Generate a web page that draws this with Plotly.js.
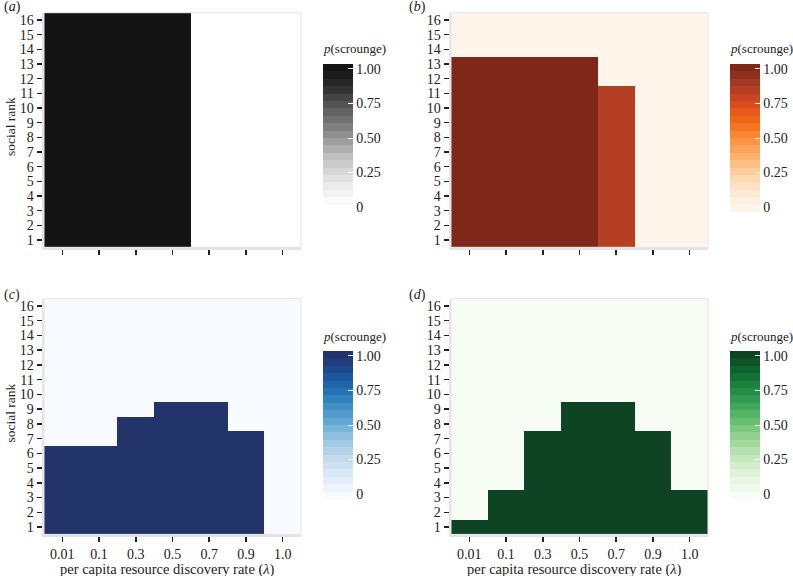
<!DOCTYPE html>
<html>
<head>
<meta charset="utf-8">
<script src="https://cdn.plot.ly/plotly-3.0.1.min.js"></script>
<style>html,body{margin:0;padding:0;background:#fff;}#chart{width:793px;height:576px;}</style>
</head>
<body>
<div id="chart"></div>
<script>
// ---- data ----
const discoveryRates = ['0.01', '0.1', '0.3', '0.5', '0.7', '0.9', '1.0'];
const socialRanks = [1, 2, 3, 4, 5, 6, 7, 8, 9, 10, 11, 12, 13, 14, 15, 16];

// highest social rank that scrounges in each lambda column, and the p(scrounge) of those cells
const panelA_maxRank = [16, 16, 16, 16, 0, 0, 0];
const panelA_level   = [1, 1, 1, 1, 0, 0, 0];
const panelB_maxRank = [13, 13, 13, 13, 11, 0, 0];
const panelB_level   = [1, 1, 1, 1, 0.86, 0, 0];
const panelC_maxRank = [6, 6, 8, 9, 9, 7, 0];
const panelC_level   = [1, 1, 1, 1, 1, 1, 0];
const panelD_maxRank = [1, 3, 7, 9, 9, 7, 3];
const panelD_level   = [1, 1, 1, 1, 1, 1, 1];

const cbTickVals = [0, 0.25, 0.5, 0.75, 1];
const cbTickText = ['0', '0.25', '0.50', '0.75', '1.00'];

// ---- palettes ----
const greys   = ['#ffffff','#f0f0f0','#d9d9d9','#bdbdbd','#969696','#737373','#525252','#2a2a2a','#141414'];
const oranges = ['#fff5eb','#fee6ce','#fdd0a2','#fdae6b','#fd8d3c','#f16913','#d84a1e','#aa3c25','#7f2819'];
const blues   = ['#f7fbff','#deebf7','#c6dbef','#9ecae1','#6baed6','#4292c6','#2171b5','#1a4f98','#22346a'];
const greens  = ['#f7fcf5','#e5f5e0','#c7e9c0','#a1d99b','#74c476','#41ab5d','#238b45','#0e6a30','#0e4424'];

function hex2rgb(h){return [parseInt(h.slice(1,3),16),parseInt(h.slice(3,5),16),parseInt(h.slice(5,7),16)];}
function interp(pal, t){
  t = Math.max(0, Math.min(1, t));
  const p = t*(pal.length-1), i = Math.min(Math.floor(p), pal.length-2), f = p - i;
  const a = hex2rgb(pal[i]), b = hex2rgb(pal[i+1]);
  const c = a.map((v,k)=>Math.round(v+(b[k]-v)*f));
  return 'rgb('+c.join(',')+')';
}
const ZMIN = -0.035, ZMAX = 1.035, NBANDS = 20;
function stepped(pal){
  const cs = [];
  for (let i=0;i<NBANDS;i++){
    const center = ZMIN + (i+0.5)*(ZMAX-ZMIN)/NBANDS;
    const c = interp(pal, center);
    cs.push([i/NBANDS, c]); cs.push([(i+1)/NBANDS, c]);
  }
  return cs;
}
function buildZ(maxRank, level){
  return socialRanks.map(r => discoveryRates.map((_,c) => r <= maxRank[c] ? level[c] : 0));
}

const W = 793, H = 576;
const FONT = '"Liberation Serif", "Times New Roman", serif';
const px = v => v / W, py = v => 1 - v / H;

const panels = [
  {maxRank: panelA_maxRank, level: panelA_level, pal: greys,   xd:[44,301],  yd:[12.7,247.3], cbx:323, cby:[64,212],  lab:'(<i>a</i>)', labx:2,   laby:7,   ylab:true,  xlab:false},
  {maxRank: panelB_maxRank, level: panelB_level, pal: oranges, xd:[451,708], yd:[12.7,247.3], cbx:730, cby:[64,212],  lab:'(<i>b</i>)', labx:407, laby:7,   ylab:false, xlab:false},
  {maxRank: panelC_maxRank, level: panelC_level, pal: blues,   xd:[44,301],  yd:[298.6,534.4],cbx:323, cby:[351,499], lab:'(<i>c</i>)', labx:2,   laby:295, ylab:true,  xlab:true},
  {maxRank: panelD_maxRank, level: panelD_level, pal: greens,  xd:[451,708], yd:[298.6,534.4],cbx:730, cby:[351,499], lab:'(<i>d</i>)', labx:407, laby:295, ylab:false, xlab:true}
];

const data = [], annotations = [], shapes = [];
const layout = {
  width: W, height: H, margin:{l:0,r:0,t:0,b:0},
  paper_bgcolor:'#ffffff', plot_bgcolor:'#ffffff',
  font:{family:FONT, size:12, color:'#1a1a1a'},
  showlegend:false
};

panels.forEach((p, i) => {
  const n = i === 0 ? '' : String(i+1);
  data.push({
    type:'heatmap', x: discoveryRates, y: socialRanks, z: buildZ(p.maxRank, p.level),
    xaxis:'x'+n, yaxis:'y'+n, zmin: ZMIN, zmax: ZMAX,
    colorscale: stepped(p.pal), hoverinfo:'skip',
    colorbar:{
      x: px(p.cbx), xanchor:'left', xpad:0, ypad:0,
      y: py((p.cby[0]+p.cby[1])/2), yanchor:'middle',
      thickness: 30, thicknessmode:'pixels',
      len: p.cby[1]-p.cby[0], lenmode:'pixels',
      outlinewidth:0, tickmode:'array', tickvals: cbTickVals, ticktext: cbTickText,
      ticks:'inside', ticklen:5, tickcolor:'#ffffff', tickwidth:1,
      tickfont:{family:FONT, size:14, color:'#222'}
    }
  });
  layout['xaxis'+n] = {
    domain:[px(p.xd[0]), px(p.xd[1])], anchor:'y'+n, type:'category',
    showgrid:false, zeroline:false, showline:true, linecolor:'#e3e3ea', linewidth:2.5,
    ticks:'outside', ticklen:5, tickwidth:1.5, tickcolor:'#222',
    showticklabels: p.xlab, tickfont:{family:FONT, size:14, color:'#222'}, fixedrange:true
  };
  layout['yaxis'+n] = {
    domain:[py(p.yd[1]), py(p.yd[0])], anchor:'x'+n, range:[0.5,16.5],
    tickmode:'array', tickvals: socialRanks, ticktext: socialRanks.map(String),
    showgrid:false, zeroline:false, showline:true, linecolor:'#e3e3ea', linewidth:2.5,
    ticks:'outside', ticklen:5, tickwidth:1.5, tickcolor:'#222',
    tickfont:{family:FONT, size:14, color:'#222'}, fixedrange:true
  };
  shapes.push({type:'rect', xref:'x'+n+' domain', yref:'y'+n+' domain', x0:0, x1:1, y0:0, y1:1,
               line:{color:'#e6e6e6', width:1}, fillcolor:'rgba(0,0,0,0)', layer:'above'});
  annotations.push({text:p.lab, xref:'paper', yref:'paper', x:px(p.labx), y:py(p.laby),
                    xanchor:'left', yanchor:'middle', showarrow:false, font:{family:FONT, size:14, color:'#222'}});
  annotations.push({text:'<i>p</i>(scrounge)', xref:'paper', yref:'paper', x:px(p.cbx-2), y:py(p.cby[0]-15),
                    xanchor:'left', yanchor:'middle', showarrow:false, font:{family:FONT, size:13, color:'#222'}});
  if (p.ylab) annotations.push({text:'social rank', xref:'paper', yref:'paper', x:px(10), y:py((p.yd[0]+p.yd[1])/2 - 3),
                    xanchor:'center', yanchor:'middle', textangle:-90, showarrow:false, font:{family:FONT, size:13.5, color:'#222'}});
  if (p.xlab) annotations.push({text:'per capita resource discovery rate (<i>λ</i>)', xref:'paper', yref:'paper',
                    x:px((p.xd[0]+p.xd[1])/2 - 5), y:py(569), xanchor:'center', yanchor:'middle', showarrow:false,
                    font:{family:FONT, size:14.5, color:'#222'}});
});
layout.annotations = annotations;
layout.shapes = shapes;

Plotly.newPlot('chart', data, layout, {staticPlot:true, displayModeBar:false});
</script>
</body>
</html>
